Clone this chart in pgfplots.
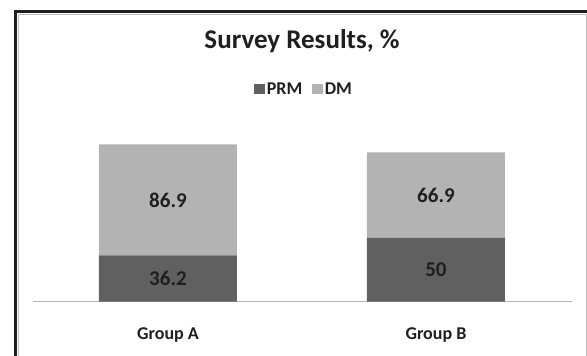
\documentclass[border=0pt]{standalone}
\usepackage{pgfplots}
\pgfplotsset{compat=1.18}
\usepackage{pgfplotstable}
\usepackage{fontspec}
\setmainfont{Carlito}
\definecolor{prm}{HTML}{606060}
\definecolor{dm}{HTML}{B3B3B3}
\definecolor{axisgray}{HTML}{B4B4B4}
\pgfplotstableread{
x PRM DM
0 36.2 86.9
1 50 66.9
}\data
\begin{document}
\begin{tikzpicture}[x=1pt,y=1pt]
\useasboundingbox (0,0) rectangle (587,356);
\begin{scope}
\clip (0,0) rectangle (587,356);
\draw[line width=0.8pt, black!25] (18,-20) rectangle (586,342);
\draw[line width=3.3pt, black!88] (15.7,-20) rectangle (640,344.3);
\end{scope}
\node[font=\bfseries\fontsize{27}{30}\selectfont, anchor=base, text=black!88] at (302,307) {Survey Results, \%};
\begin{axis}[
  at={(33pt,54.3pt)}, anchor=south west,
  scale only axis, width=539pt, height=166.1pt,
  ymin=0, ymax=130, xmin=-0.5037, xmax=1.5075,
  ybar stacked, bar width=138pt,
  axis y line=none, axis x line*=bottom,
  x axis line style={axisgray, line width=1.3pt},
  xtick=data, xticklabels={Group A, Group B},
  major tick length=0pt,
  xticklabel style={font=\bfseries\fontsize{18}{20}\selectfont, yshift=-22pt, text=black!88},
  /pgf/number format/assume math mode=true,
  nodes near coords,
  every node near coord/.append style={font=\bfseries\fontsize{21}{23}\selectfont, anchor=center, text=black!88},
  legend style={at={(0.503,1.2806)}, anchor=center, draw=none, legend columns=2,
    font=\bfseries\fontsize{18}{20}\selectfont, text=black!88,
    inner sep=0pt, cells={inner xsep=3pt},
    /tikz/every even column/.append style={column sep=8pt}},
  legend image code/.code={\fill[#1] (0pt,-5.25pt) rectangle (10.5pt,5.25pt);},
]
\addplot[fill=prm, draw=none, point meta=\thisrow{PRM}] table[x=x, y=PRM] {\data};
\addlegendentry{PRM}
\addplot[fill=dm, draw=none, point meta=\thisrow{DM}] table[x=x, y=DM] {\data};
\addlegendentry{DM}
\end{axis}
\end{tikzpicture}
\end{document}
